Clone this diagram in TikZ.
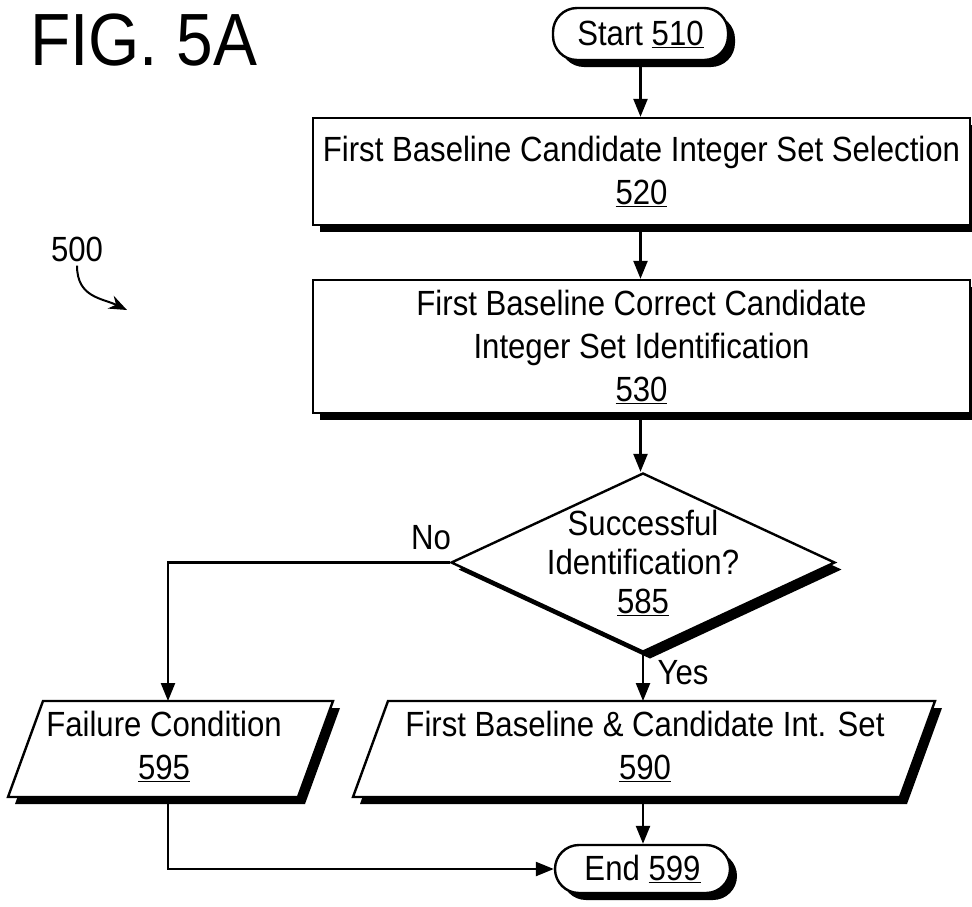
\documentclass[tikz,border=0pt]{standalone}
\usepackage{fontspec}
\setmainfont{Liberation Sans}[FakeStretch=0.89]
\usetikzlibrary{shapes.geometric,shadows,arrows.meta}
\newcommand\txtf{\fontsize{35pt}{43pt}\selectfont}
\newcommand\dtxtf{\fontsize{35pt}{39pt}\selectfont}
\begin{document}
\begin{tikzpicture}[x=1pt,y=-1pt,
  shad/.style={drop shadow={shadow xshift=7pt,shadow yshift=-7pt,fill=black,opacity=1}},
  boxst/.style={draw,fill=white,line width=2.4pt,shad,align=center,inner sep=0pt,font=\txtf},
  term/.style={boxst,rounded corners=24pt},
  para/.style={draw,fill=white,line width=2.4pt,shad,line join=miter},
  lbl/.style={font=\txtf,align=center,inner sep=0pt},
  arr/.style={line width=2.4pt,-{Triangle[length=18pt,width=14pt]}}]
\useasboundingbox (0,0) rectangle (972,906);

\node[font=\fontsize{74pt}{80pt}\selectfont,anchor=west,inner sep=0pt] (fig) at (30,40) {FIG. 5A};

\node[term,minimum width=175pt,minimum height=52pt] (start) at (640.5,34) {Start \underline{510}};
\node[boxst,minimum width=657pt,minimum height=107pt] (b520) at (641.5,171.5)
  {First Baseline Candidate Integer Set Selection\\\underline{520}};
\node[boxst,minimum width=657pt,minimum height=133pt] (b530) at (641.5,346.5)
  {First Baseline Correct Candidate\\Integer Set Identification\\\underline{530}};
\node[draw,fill=white,line width=2.4pt,shad,diamond,minimum width=384pt,minimum height=179pt,inner sep=0pt] (d585) at (643,562.5) {};
\node[lbl,font=\dtxtf] (t585) at (643,563) {Successful\\Identification?\\\underline{585}};

\path[para] (43,701) -- (333,701) -- (298,797) -- (8,797) -- cycle;
\node[lbl] (fail) at (164,746) {Failure Condition\\\underline{595}};
\path[para] (388,701) -- (935,701) -- (900,797) -- (353,797) -- cycle;
\node[lbl] (b590) at (645,746) {First Baseline \& Candidate Int. Set\\\underline{590}};
\coordinate (failtop) at (168,701);
\coordinate (failbot) at (168,797);
\coordinate (top590) at (643,701);
\coordinate (bot590) at (643,797);

\node[term,minimum width=175pt,minimum height=48pt] (end) at (642.5,869) {End \underline{599}};

\node[lbl] (no) at (431,538) {No};
\node[lbl] (yes) at (683,673) {Yes};

\node[lbl] (l500) at (77,249) {500};
\coordinate (tip500) at (127,310);

\draw[arr] (start.south) -- (start.south |- b520.north);
\draw[arr] (start.south |- b520.south) -- (start.south |- b530.north);
\draw[arr] (start.south |- b530.south) -- (start.south |- d585.north);
\draw[arr] (d585.west) -| (failtop);
\draw[arr] (d585.south) -- (top590);
\draw[arr] (bot590) -- (bot590 |- end.north);
\draw[arr] (failbot) |- (end.west);
\draw[line width=2pt,-{Stealth[length=18pt,width=14pt]}] (l500.south) ++(0,4) .. controls +(0,32) and +(-25,-12) .. (tip500);
\end{tikzpicture}
\end{document}
